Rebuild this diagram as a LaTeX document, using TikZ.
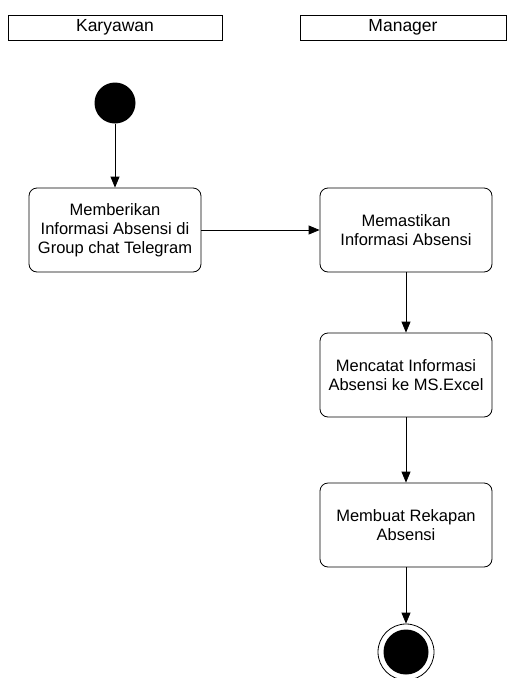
\documentclass[tikz,border=0pt]{standalone}
\usepackage{fontspec}
\setmainfont{Liberation Sans}
\usepackage{tikz}
\usetikzlibrary{arrows.meta}
\tikzset{lane/.style={draw,line width=0.8pt,minimum width=214pt,minimum height=25pt,inner sep=0pt,font=\fontsize{17.5}{19}\selectfont},
 activity/.style={draw,line width=0.8pt,rounded corners=8pt,minimum width=172pt,minimum height=84pt,align=center,inner sep=2pt,font=\fontsize{16.5}{19}\selectfont},
 startstate/.style={circle,fill=black,minimum size=41pt,inner sep=0pt},
 flow/.style={draw,line width=0.8pt,-{Triangle[length=11pt,width=9pt]}},
 }

\begin{document}
\begin{tikzpicture}[x=1pt,y=-1pt]
        \useasboundingbox (0,0) rectangle (507,678);
        % swimlane headers
        \node[lane] (karyawan) at (115,27.5) {Karyawan};
        \node[lane,minimum width=206pt] (manager) at (403,27.5) {Manager};
        % states
        \node[startstate] (start) at (115,103) {};
        \node[activity] (beri) at (115,230) {Memberikan\\Informasi Absensi di\\Group chat Telegram};
        \node[activity] (pastikan) at (406,230) {Memastikan\\Informasi Absensi};
        \node[activity] (catat) at (406,375) {Mencatat Informasi\\Absensi ke MS.Excel};
        \node[activity] (rekap) at (406,525) {Membuat Rekapan\\Absensi};
        \node[circle,draw,line width=0.8pt,minimum size=56pt,inner sep=0pt] (finish) at (406,652) {};
        \node[circle,fill=black,minimum size=45pt,inner sep=0pt] (finishdot) at (406,652) {};
        % flows
        \draw[flow] (start) -- (beri);
        \draw[flow] (beri) -- (pastikan);
        \draw[flow] (pastikan) -- (catat);
        \draw[flow] (catat) -- (rekap);
        \draw[flow] (rekap) -- (finish);
    \end{tikzpicture}
\end{document}
